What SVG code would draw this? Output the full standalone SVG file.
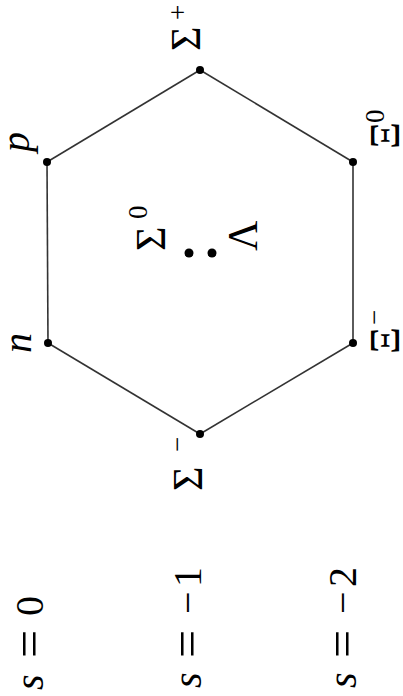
<svg xmlns="http://www.w3.org/2000/svg" width="403" height="696" viewBox="0 0 403 696">
<style>
text{font-family:"Liberation Serif","Times New Roman",serif;font-size:40px;fill:#000}
.it{font-style:italic}
.gr{font-size:42px}
.sup{font-size:27px}
.eq{font-size:50px}
.edge{stroke:#333;stroke-width:1.6;fill:none}
.dot{fill:#000}
</style>
<rect width="403" height="696" fill="#fff"/>
<g id="connectors">
<line class="edge" x1="200" y1="70" x2="353" y2="162"/>
<line class="edge" x1="353" y1="162" x2="353" y2="343"/>
<line class="edge" x1="353" y1="343" x2="200" y2="434"/>
<line class="edge" x1="200" y1="434" x2="48" y2="343"/>
<line class="edge" x1="48" y1="343" x2="47" y2="162"/>
<line class="edge" x1="47" y1="162" x2="200" y2="70"/>
</g>
<g id="node-sigma-plus"><circle class="dot" cx="200" cy="70" r="4"/><text class="gr" transform="translate(200,51) rotate(-90)">Σ<tspan class="sup" x="31" y="-13">+</tspan></text></g>
<g id="node-p"><circle class="dot" cx="47" cy="162" r="4"/><text class="it" transform="translate(29,152) rotate(-90)">p</text></g>
<g id="node-n"><circle class="dot" cx="48" cy="343" r="4"/><text class="it" transform="translate(31,353) rotate(-90)">n</text></g>
<g id="node-sigma-minus"><circle class="dot" cx="200" cy="434" r="4"/><text class="gr" transform="translate(202,491) rotate(-90)">Σ<tspan class="sup" x="39" y="-16">−</tspan></text></g>
<g id="node-xi-minus"><circle class="dot" cx="353" cy="343" r="4"/><text class="gr" transform="translate(399,354) rotate(-90)">Ξ<tspan class="sup" x="29" y="-16">−</tspan></text></g>
<g id="node-xi-zero"><circle class="dot" cx="353" cy="162" r="4"/><text class="gr" transform="translate(399,149) rotate(-90)">Ξ<tspan class="sup" x="26" y="-15">0</tspan></text></g>
<g id="node-sigma-zero"><circle class="dot" cx="189" cy="253" r="4.5"/><text class="gr" transform="translate(165,251) rotate(-90)">Σ<tspan class="sup" x="32" y="-18">0</tspan></text></g>
<g id="node-lambda"><circle class="dot" cx="212" cy="253" r="4.5"/><text class="gr" transform="translate(257,251) rotate(-90)">Λ</text></g>
<g id="strangeness-labels">
<text transform="translate(43,690) rotate(-90)"><tspan class="it" x="0">s</tspan><tspan class="eq" x="32" y="3">=</tspan><tspan x="74" y="0">0</tspan></text>
<text transform="translate(201,688) rotate(-90)"><tspan class="it" x="0">s</tspan><tspan class="eq" x="30" y="3">=</tspan><tspan x="74" y="0">−</tspan><tspan x="101">1</tspan></text>
<text transform="translate(356,688) rotate(-90)"><tspan class="it" x="0">s</tspan><tspan class="eq" x="30" y="3">=</tspan><tspan x="74" y="0">−</tspan><tspan x="101">2</tspan></text>
</g>
</svg>
